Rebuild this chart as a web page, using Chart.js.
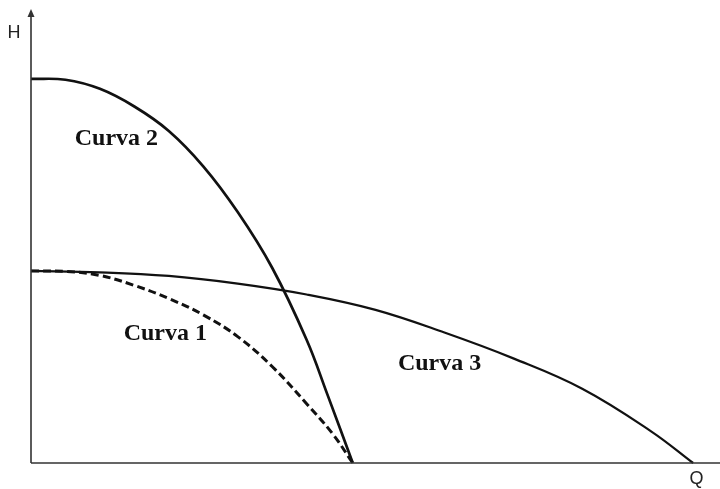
<!DOCTYPE html>
<html>
<head>
<meta charset="utf-8">
<script src="https://cdn.jsdelivr.net/npm/chart.js@4/dist/chart.umd.min.js"></script>
<style>
html,body{margin:0;padding:0;background:#fff;}
#wrap{width:720px;height:489px;position:relative;}
</style>
</head>
<body>
<div id="wrap"><canvas id="c" width="720" height="489"></canvas></div>
<script>
// Flow Q (arbitrary units) and head H (arbitrary units)
const curve1Q = [0, 5, 10, 15, 20, 25, 30, 35, 40, 43.8, 46.7];
const curve1H = [42.4, 42.3, 41.4, 39.2, 36.3, 32.7, 27.9, 21.3, 13.1, 6.4, 0];

const curve2Q = [0, 5, 10, 15, 20, 25, 30, 35, 40, 43, 46.7];
const curve2H = [84.8, 84.6, 82.6, 78.7, 73.3, 65.5, 55.4, 43.1, 27.2, 15.2, 0];

const curve3Q = [0, 10, 20, 30, 40, 50, 60, 70, 80, 90, 96.1];
const curve3H = [42.4, 42.1, 41.3, 39.6, 37.2, 33.8, 28.8, 23.1, 16.4, 7.0, 0];

const seriesNames = ["Curva 1", "Curva 2", "Curva 3"];
const axisTitles = ["Q", "H"];

function pts(q, h){ return q.map((v,i)=>({x:v, y:h[i]})); }

// label anchors in data units (Q, H)
const labelAnchors = [[19.5, 28.5], [12.4, 71.5], [59.3, 22]];

const decor = {
  id: 'decor',
  afterDatasetsDraw(chart){
    const {ctx, chartArea:a, scales:{x, y}} = chart;
    ctx.save();
    ctx.strokeStyle = '#333';
    ctx.lineWidth = 1.6;
    ctx.beginPath();
    ctx.moveTo(a.left, a.bottom);
    ctx.lineTo(a.left, a.top + 4);
    ctx.moveTo(a.left, a.bottom);
    ctx.lineTo(a.right, a.bottom);
    ctx.stroke();
    ctx.fillStyle = '#333';
    ctx.beginPath();
    ctx.moveTo(a.left, a.top - 1);
    ctx.lineTo(a.left - 3.5, a.top + 7);
    ctx.lineTo(a.left + 3.5, a.top + 7);
    ctx.closePath();
    ctx.fill();
    ctx.fillStyle = '#222';
    ctx.font = '18px "Liberation Sans", Arial, sans-serif';
    ctx.textAlign = 'center';
    ctx.textBaseline = 'middle';
    ctx.fillText(axisTitles[1], a.left - 17, a.top + 23);
    ctx.fillText(axisTitles[0], x.getPixelForValue(96.6), a.bottom + 16);
    ctx.fillStyle = '#111';
    ctx.font = 'bold 24px "Liberation Serif", "Times New Roman", serif';
    seriesNames.forEach((n,i)=>{
      ctx.fillText(n, x.getPixelForValue(labelAnchors[i][0]), y.getPixelForValue(labelAnchors[i][1]));
    });
    ctx.restore();
  }
};

new Chart(document.getElementById('c'), {
  type: 'scatter',
  data: {
    datasets: [
      { label: seriesNames[0], data: pts(curve1Q, curve1H), showLine: true, borderColor: '#111',
        borderWidth: 3, borderDash: [8, 4], pointRadius: 0, tension: 0.4, fill: false },
      { label: seriesNames[1], data: pts(curve2Q, curve2H), showLine: true, borderColor: '#111',
        borderWidth: 2.7, pointRadius: 0, tension: 0.4, fill: false },
      { label: seriesNames[2], data: pts(curve3Q, curve3H), showLine: true, borderColor: '#111',
        borderWidth: 2.2, pointRadius: 0, tension: 0.4, fill: false }
    ]
  },
  options: {
    responsive: false,
    animation: false,
    devicePixelRatio: 1,
    layout: { padding: { left: 31, right: 0, top: 10, bottom: 26 } },
    plugins: { legend: { display: false }, tooltip: { enabled: false } },
    scales: {
      x: { type: 'linear', min: 0, max: 100, display: false },
      y: { type: 'linear', min: 0, max: 100, display: false }
    },
    elements: { line: { borderCapStyle: 'butt' } },
    clip: false
  },
  plugins: [decor]
});
</script>
</body>
</html>
